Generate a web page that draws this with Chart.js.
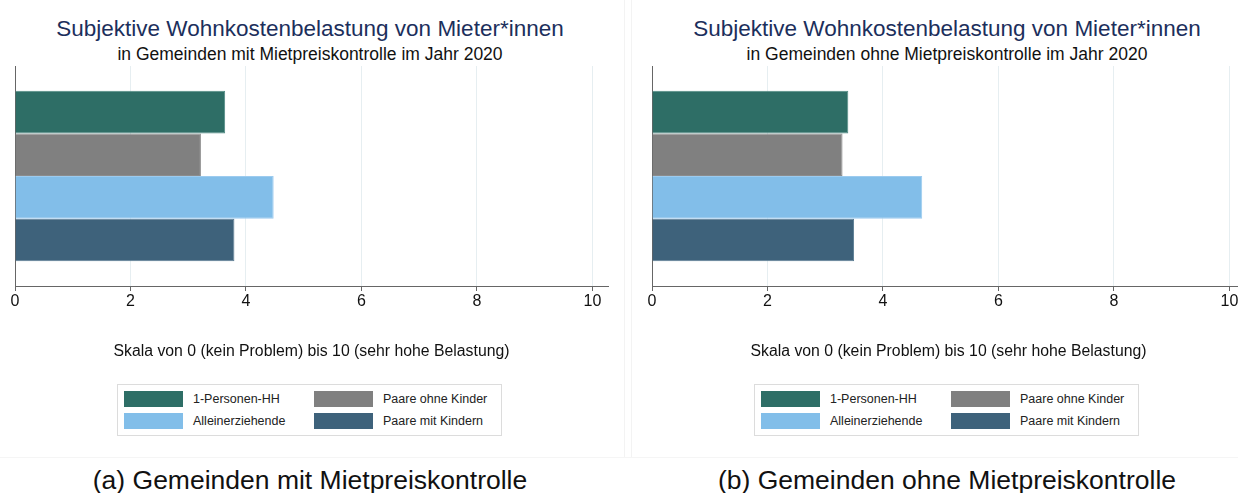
<!DOCTYPE html>
<html lang="de">
<head>
<meta charset="utf-8">
<title>Subjektive Wohnkostenbelastung von Mieter*innen</title>
<script src="https://cdn.jsdelivr.net/npm/chart.js@4/dist/chart.umd.min.js"></script>
<style>
  html, body { margin: 0; padding: 0; background: #fff; overflow: hidden; }
  body { width: 1238px; height: 493px; position: relative; font-family: "Liberation Sans", Arial, sans-serif; }
  .panel { position: absolute; top: 0; width: 620px; height: 493px; }
  .title { position: absolute; left: 0; width: 620px; text-align: center; white-space: nowrap; }
  .t1 { top: 16px; font-size: 22.5px; line-height: 26px; color: #1c2f5c; }
  .t2 { top: 44px; font-size: 17.5px; line-height: 20px; color: #111; }
  .plot { position: absolute; left: 0; top: 60px; width: 625px; height: 310px; }
  .legend { position: absolute; left: 117px; top: 384px; width: 383px; height: 50px; border: 1px solid #dcdcdc; background: #fff; }
  .lg-item { position: absolute; height: 16px; font-size: 12.5px; line-height: 16px; color: #222; white-space: nowrap; }
  .lg-sw { position: absolute; left: 0; top: 0; width: 59px; height: 16px; }
  .lg-tx { position: absolute; left: 69px; top: 0; }
  .caption { position: absolute; left: 0; width: 620px; top: 465px; text-align: center; font-size: 26.5px; line-height: 30px; color: #111; white-space: nowrap; }
  .frame-v { position: absolute; top: 0; width: 1px; height: 458px; background: #f3f3f3; }
  .frame-h { position: absolute; left: 0; top: 457px; width: 1238px; height: 1px; background: #f5f5f5; }
</style>
</head>
<body>
<div class="frame-v" style="left:624px"></div>
<div class="frame-v" style="left:631px"></div>
<div class="frame-h"></div>
<div id="panels"></div>
<script>
// Household groups, in drawing order (top to bottom)
const groups = ['1-Personen-HH', 'Paare ohne Kinder', 'Alleinerziehende', 'Paare mit Kindern'];
const groupColors = ['#2e6e66', '#808080', '#82bee9', '#3e627b'];
const groupEdges = ['#4f8a83', '#8c8c8c', '#9ccbef', '#5a7b92'];

// Mean burden score (0 = kein Problem, 10 = sehr hohe Belastung)
const mitKontrolle = [3.64, 3.22, 4.48, 3.80];
const ohneKontrolle = [3.40, 3.30, 4.68, 3.50];

const xTicks = [0, 2, 4, 6, 8, 10];
const xMax = 10.27;

const mainTitle = 'Subjektive Wohnkostenbelastung von Mieter*innen';
const subTitles = ['in Gemeinden mit Mietpreiskontrolle im Jahr 2020', 'in Gemeinden ohne Mietpreiskontrolle im Jahr 2020'];
const axisTitle = 'Skala von 0 (kein Problem) bis 10 (sehr hohe Belastung)';
const captions = ['(a) Gemeinden mit Mietpreiskontrolle', '(b) Gemeinden ohne Mietpreiskontrolle'];

const panelLefts = [0, 637];
const panelValues = [mitKontrolle, ohneKontrolle];

const fontFamily = '"Liberation Sans", Arial, sans-serif';

function buildLegend(container) {
  const box = document.createElement('div');
  box.className = 'legend';
  // two columns, two rows
  const pos = [[6, 6], [196, 6], [6, 28], [196, 28]];
  groups.forEach((g, i) => {
    const item = document.createElement('div');
    item.className = 'lg-item';
    item.style.left = pos[i][0] + 'px';
    item.style.top = pos[i][1] + 'px';
    const sw = document.createElement('div');
    sw.className = 'lg-sw';
    sw.style.background = groupColors[i];
    const tx = document.createElement('div');
    tx.className = 'lg-tx';
    tx.textContent = g;
    item.appendChild(sw);
    item.appendChild(tx);
    box.appendChild(item);
  });
  container.appendChild(box);
}

const host = document.getElementById('panels');
panelValues.forEach((vals, p) => {
  const panel = document.createElement('div');
  panel.className = 'panel';
  panel.style.left = panelLefts[p] + 'px';

  const t1 = document.createElement('div');
  t1.className = 'title t1';
  t1.textContent = mainTitle;
  const t2 = document.createElement('div');
  t2.className = 'title t2';
  t2.textContent = subTitles[p];
  panel.appendChild(t1);
  panel.appendChild(t2);

  const plot = document.createElement('div');
  plot.className = 'plot';
  const canvas = document.createElement('canvas');
  plot.appendChild(canvas);
  panel.appendChild(plot);

  buildLegend(panel);

  const cap = document.createElement('div');
  cap.className = 'caption';
  cap.textContent = captions[p];
  panel.appendChild(cap);
  host.appendChild(panel);

  new Chart(canvas, {
    type: 'bar',
    data: {
      labels: [''],
      datasets: groups.map((g, i) => ({
        label: g,
        data: [vals[i]],
        backgroundColor: groupColors[i],
        borderColor: groupEdges[i],
        borderWidth: 1,
        borderSkipped: 'start'
      }))
    },
    options: {
      indexAxis: 'y',
      responsive: true,
      maintainAspectRatio: false,
      animation: false,
      devicePixelRatio: 1,
      layout: { padding: { left: 15, right: 17, top: 6, bottom: 0 } },
      datasets: { bar: { categoryPercentage: 0.775, barPercentage: 1.0 } },
      plugins: {
        legend: { display: false },
        tooltip: { enabled: false },
        title: { display: false }
      },
      scales: {
        x: {
          type: 'linear',
          min: 0,
          max: xMax,
          afterBuildTicks: (scale) => { scale.ticks = xTicks.map(v => ({ value: v })); },
          afterFit: (scale) => { scale.height = 84; },
          grid: {
            color: (ctx) => (ctx.tick && ctx.tick.value === 0) ? 'rgba(0,0,0,0)' : '#e6eef1',
            lineWidth: 1,
            drawTicks: true,
            tickLength: 5,
            tickColor: '#666'
          },
          border: { display: true, color: '#666', width: 1 },
          ticks: {
            color: '#111',
            padding: 1,
            font: { family: fontFamily, size: 16 },
            maxRotation: 0,
            autoSkip: false,
            callback: (v) => String(v)
          },
          title: {
            display: true,
            text: axisTitle,
            color: '#111',
            font: { family: fontFamily, size: 15.8 },
            padding: { top: 0, bottom: 9 }
          }
        },
        y: {
          type: 'category',
          afterFit: (scale) => { scale.width = 0; },
          grid: { display: false, drawTicks: false },
          border: { display: true, color: '#666', width: 1 },
          ticks: { display: false }
        }
      }
    }
  });
});
</script>
</body>
</html>
